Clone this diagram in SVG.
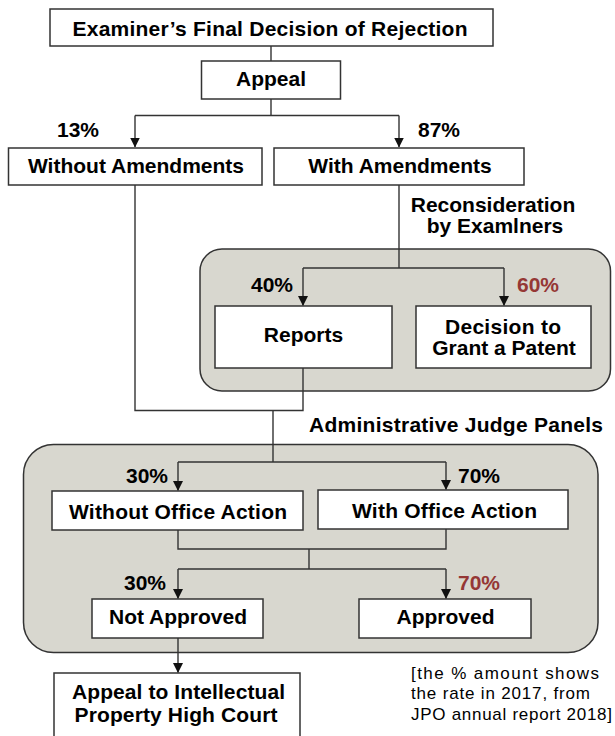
<svg xmlns="http://www.w3.org/2000/svg" width="615" height="736" viewBox="0 0 615 736">
  <defs>
    <style>
      .box { fill: #ffffff; stroke: #333333; stroke-width: 1.5; }
      .panel { fill: #d8d7cf; stroke: #333333; stroke-width: 1.5; }
      .wire { fill: none; stroke: #333333; stroke-width: 1.4; }
      .lbl { font-family: "Liberation Sans", Arial, sans-serif; font-weight: bold; font-size: 21px; fill: #000000; text-anchor: middle; }
      .pct { font-family: "Liberation Sans", Arial, sans-serif; font-weight: bold; font-size: 21px; fill: #000000; }
      .pct.hi { fill: #953735; }
      .note { font-family: "Liberation Sans", Arial, sans-serif; font-size: 17px; fill: #000000; }
    </style>
    <marker id="arrow" markerUnits="userSpaceOnUse" markerWidth="10" markerHeight="11" refX="9.5" refY="5" orient="auto">
      <path d="M0,0 L10,5 L0,10 Z" fill="#111111"/>
    </marker>
  </defs>

  <!-- grouping panels (drawn first so connectors sit on top) -->
  <g id="panel-reconsideration">
    <rect class="panel" x="200" y="249" width="410.5" height="142" rx="22" ry="22"/>
    <text class="lbl" x="493" y="212">Reconsideration</text>
    <text class="lbl" x="495" y="233">by Examlners</text>
  </g>
  <g id="panel-judges">
    <rect class="panel" x="23.5" y="444.5" width="574.5" height="208" rx="30" ry="30"/>
    <text class="lbl" x="456" y="432" textLength="294" lengthAdjust="spacing">Administrative Judge Panels</text>
  </g>

  <!-- connectors -->
  <g id="connectors">
    <path class="wire" d="M271 46 V61"/>
    <path class="wire" d="M271 99 V115.5"/>
    <path class="wire" d="M135 115.5 H399"/>
    <path class="wire" d="M135 115.5 V147" marker-end="url(#arrow)"/>
    <path class="wire" d="M399 115.5 V147" marker-end="url(#arrow)"/>

    <path class="wire" d="M399 185 V268"/>
    <path class="wire" d="M303 268 H504"/>
    <path class="wire" d="M303 268 V305.5" marker-end="url(#arrow)"/>
    <path class="wire" d="M504 268 V305.5" marker-end="url(#arrow)"/>

    <path class="wire" d="M135 185 V410.5 H303 V368"/>
    <path class="wire" d="M273 410.5 V462"/>
    <path class="wire" d="M178 462 H446"/>
    <path class="wire" d="M178 462 V490.5" marker-end="url(#arrow)"/>
    <path class="wire" d="M446 462 V489.5" marker-end="url(#arrow)"/>

    <path class="wire" d="M178 530 V549 H446 V529"/>
    <path class="wire" d="M309 549 V569"/>
    <path class="wire" d="M178 569 H446"/>
    <path class="wire" d="M178 569 V598.5" marker-end="url(#arrow)"/>
    <path class="wire" d="M446 569 V598.5" marker-end="url(#arrow)"/>

    <path class="wire" d="M178 638 V672.5" marker-end="url(#arrow)"/>
  </g>

  <!-- percentages -->
  <g id="rates">
    <text class="pct" x="57" y="137">13%</text>
    <text class="pct" x="418" y="137">87%</text>
    <text class="pct" x="251" y="292">40%</text>
    <text class="pct hi" x="517" y="292">60%</text>
    <text class="pct" x="126" y="483">30%</text>
    <text class="pct" x="458" y="483">70%</text>
    <text class="pct" x="124" y="590">30%</text>
    <text class="pct hi" x="458" y="590">70%</text>
  </g>

  <!-- nodes -->
  <g id="final-rejection">
    <rect class="box" x="50" y="9" width="443" height="37"/>
    <text class="lbl" x="270" y="36" textLength="395" lengthAdjust="spacing">Examiner’s Final Decision of Rejection</text>
  </g>
  <g id="appeal">
    <rect class="box" x="201.5" y="61" width="139" height="38"/>
    <text class="lbl" x="271" y="86">Appeal</text>
  </g>
  <g id="without-amendments">
    <rect class="box" x="8.5" y="148" width="253.5" height="37"/>
    <text class="lbl" x="136" y="173">Without Amendments</text>
  </g>
  <g id="with-amendments">
    <rect class="box" x="274" y="148" width="250" height="37"/>
    <text class="lbl" x="400" y="173">With Amendments</text>
  </g>
  <g id="reports">
    <rect class="box" x="215" y="306" width="177" height="62"/>
    <text class="lbl" x="303.5" y="342">Reports</text>
  </g>
  <g id="grant">
    <rect class="box" x="416" y="306" width="175" height="62"/>
    <text class="lbl" x="503" y="334" textLength="116" lengthAdjust="spacing">Decision to</text>
    <text class="lbl" x="504" y="355">Grant a Patent</text>
  </g>
  <g id="without-office-action">
    <rect class="box" x="52" y="491" width="251" height="39"/>
    <text class="lbl" x="178" y="519" textLength="218" lengthAdjust="spacing">Without Office Action</text>
  </g>
  <g id="with-office-action">
    <rect class="box" x="318" y="490" width="250" height="39"/>
    <text class="lbl" x="444.5" y="518" textLength="185" lengthAdjust="spacing">With Office Action</text>
  </g>
  <g id="not-approved">
    <rect class="box" x="92" y="599" width="171" height="39"/>
    <text class="lbl" x="178" y="624">Not Approved</text>
  </g>
  <g id="approved">
    <rect class="box" x="359" y="599" width="172" height="39"/>
    <text class="lbl" x="445.5" y="624">Approved</text>
  </g>
  <g id="high-court">
    <rect class="box" x="54" y="673" width="246" height="65"/>
    <text class="lbl" x="178.5" y="699" textLength="213" lengthAdjust="spacing">Appeal to Intellectual</text>
    <text class="lbl" x="176" y="722" textLength="203" lengthAdjust="spacing">Property High Court</text>
  </g>

  <!-- source note -->
  <g id="note">
    <text class="note" x="411" y="679" textLength="188" lengthAdjust="spacing">[the % amount shows</text>
    <text class="note" x="411" y="699" textLength="179" lengthAdjust="spacing">the rate in 2017, from</text>
    <text class="note" x="411" y="720" textLength="201" lengthAdjust="spacing">JPO annual report 2018]</text>
  </g>
</svg>
